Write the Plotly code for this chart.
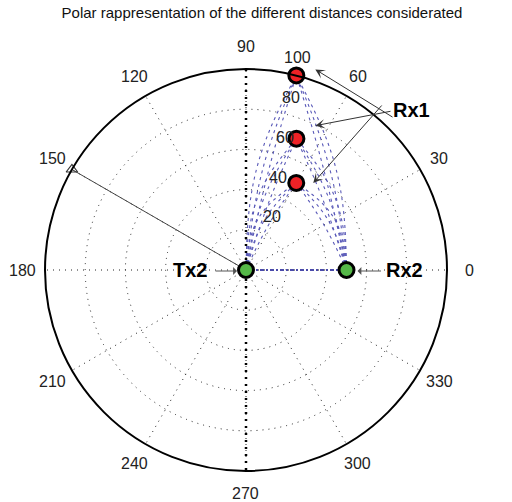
import numpy as np
import plotly.graph_objects as go

# ---------------- data ----------------
title_text = "Polar rappresentation of the different distances considerated"
angle_ticks = [0, 30, 60, 90, 120, 150, 180, 210, 240, 270, 300, 330]
angle_labels = [str(a) for a in angle_ticks]
radial_ticks = [20, 40, 60, 80, 100]
radial_labels = ["20", "40", "60", "80", "100"]

tx2_r = [0.0]
tx2_theta = [0.0]
rx2_r = [50.0]
rx2_theta = [0.0]
rx1_r = [50.0, 70.0, 100.0]
rx1_theta = [60.0, 69.0, 75.5]

ray_r = [0.0, 100.0]
ray_theta = [150.0, 150.0]

link_bulges = [1.5, 4.5, 7.5]   # outward bow of each dashed path (radial units)

# ---------------- layout constants ----------------
W, H = 512, 502
CX, CY, RPX = 246.0, 270.0, 201.0   # pixel centre and radius of the polar area
SCALE = RPX / 100.0
ANGLE_LABEL_R = 111.0               # radius (radial units) where angle labels sit

FONT = "Liberation Sans, Arial, sans-serif"


def pol2xy(r, th):
    t = np.radians(th)
    return r * np.cos(t), r * np.sin(t)


def xy2pol(x, y):
    return np.hypot(x, y), np.degrees(np.arctan2(y, x))


def to_paper(r, th, dx=0.0, dy=0.0):
    x, y = pol2xy(r, th)
    px = CX + x * SCALE + dx
    py = CY - y * SCALE + dy
    return px / W, 1 - py / H


fig = go.Figure()

# dashed propagation paths: Tx2 -> each Rx1 (bow left) and Rx2 -> each Rx1 (bow right)
tx_xy = pol2xy(tx2_r[0], tx2_theta[0])
rx2_xy = pol2xy(rx2_r[0], rx2_theta[0])
t = np.linspace(0, 1, 60)
for r1, th1 in zip(rx1_r, rx1_theta):
    bx, by = pol2xy(r1, th1)
    for (ax_, ay_), side in ((tx_xy, 1), (rx2_xy, -1)):
        dx, dy = bx - ax_, by - ay_
        L = np.hypot(dx, dy)
        nx, ny = side * (-dy / L), side * (dx / L)
        for b in link_bulges:
            xs = ax_ + t * dx + b * np.sin(np.pi * t) * nx
            ys = ay_ + t * dy + b * np.sin(np.pi * t) * ny
            rr, tt = xy2pol(xs, ys)
            fig.add_trace(go.Scatterpolar(
                r=rr, theta=tt, mode="lines",
                line=dict(color="#5a5ab8", width=1.1, dash="3px,4px"),
                hoverinfo="skip", showlegend=False))

# Tx2 - Rx2 link
fig.add_trace(go.Scatterpolar(
    r=[tx2_r[0], rx2_r[0]], theta=[tx2_theta[0], rx2_theta[0]], mode="lines",
    line=dict(color="#4a4aaa", width=2.2, dash="2px,2px,4px,2px"),
    hoverinfo="skip", showlegend=False))

# bold vertical spoke 90-270
fig.add_trace(go.Scatterpolar(
    r=[100, 0, 100], theta=[90, 90, 270], mode="lines",
    line=dict(color="black", width=2.5, dash="2px,5px"),
    hoverinfo="skip", showlegend=False))

# ray towards 150 deg with open triangle marker
fig.add_trace(go.Scatterpolar(
    r=ray_r, theta=ray_theta, mode="lines",
    line=dict(color="#444444", width=1),
    hoverinfo="skip", showlegend=False, cliponaxis=False))
fig.add_trace(go.Scatterpolar(
    r=[ray_r[-1]], theta=[ray_theta[-1]], mode="markers",
    marker=dict(symbol="triangle-up-open", size=10,
                color="#333333", line=dict(width=1.2, color="#333333")),
    hoverinfo="skip", showlegend=False, cliponaxis=False))

# receivers / transmitter
fig.add_trace(go.Scatterpolar(
    r=rx1_r, theta=rx1_theta, mode="markers",
    marker=dict(size=15, color="#ee2226", line=dict(color="black", width=3)),
    hoverinfo="skip", showlegend=False, cliponaxis=False))
fig.add_trace(go.Scatterpolar(
    r=tx2_r + rx2_r, theta=tx2_theta + rx2_theta, mode="markers",
    marker=dict(size=15, color="#55b848", line=dict(color="black", width=3)),
    hoverinfo="skip", showlegend=False, cliponaxis=False))

annotations = []
# radial tick labels (MATLAB style, beside the 81 deg direction)
for v, txt in zip(radial_ticks, radial_labels):
    xp, yp = to_paper(v, 81.0, 19.7, -13.5)
    annotations.append(dict(xref="paper", yref="paper", x=xp, y=yp, text=txt,
                            showarrow=False, xanchor="center", yanchor="middle",
                            font=dict(family=FONT, size=16, color="#222222")))
# angular tick labels, centred on a ring outside the circle (MATLAB style)
for a, txt in zip(angle_ticks, angle_labels):
    xp, yp = to_paper(ANGLE_LABEL_R, a)
    annotations.append(dict(xref="paper", yref="paper", x=xp, y=yp, text=txt,
                            showarrow=False, xanchor="center", yanchor="middle",
                            font=dict(family=FONT, size=16, color="#222222")))

# Rx1 label + arrows
annotations.append(dict(xref="paper", yref="paper", x=411 / W, y=1 - 110 / H,
                        xanchor="center", yanchor="middle",
                        text="<b>Rx1</b>", showarrow=False,
                        font=dict(family=FONT, size=20, color="black")))
rx1_tails = [(383, 104), (392, 111), (394, 118)]
rx1_tip_off = [(17, 0), (19, -13), (19, -6)]
for (tx_, ty_), (ox, oy), r1, th1 in zip(rx1_tails, rx1_tip_off, rx1_r, rx1_theta):
    xp, yp = to_paper(r1, th1, ox, oy)
    annotations.append(dict(xref="paper", yref="paper", x=xp, y=yp, text="",
                            showarrow=True, arrowhead=3, arrowsize=1.6,
                            arrowwidth=1, arrowcolor="#333333",
                            ax=tx_ - xp * W, ay=ty_ - (1 - yp) * H))
# Tx2
annotations.append(dict(xref="paper", yref="paper", x=190 / W, y=1 - 270 / H,
                        xanchor="center", yanchor="middle",
                        text="<b>Tx2</b>", showarrow=False,
                        font=dict(family=FONT, size=20, color="black")))
xp, yp = to_paper(tx2_r[0], tx2_theta[0], -9, 1)
annotations.append(dict(xref="paper", yref="paper", x=xp, y=yp, text="",
                        showarrow=True, arrowhead=1, arrowsize=1.3, arrowwidth=1,
                        arrowcolor="#555555", ax=-23, ay=0))
# Rx2
annotations.append(dict(xref="paper", yref="paper", x=404 / W, y=1 - 270 / H,
                        xanchor="center", yanchor="middle",
                        text="<b>Rx2</b>", showarrow=False,
                        font=dict(family=FONT, size=20, color="black")))
xp, yp = to_paper(rx2_r[0], rx2_theta[0], 11, 1)
annotations.append(dict(xref="paper", yref="paper", x=xp, y=yp, text="",
                        showarrow=True, arrowhead=1, arrowsize=1.3, arrowwidth=1,
                        arrowcolor="#555555", ax=25, ay=0))

fig.update_layout(
    width=W, height=H,
    margin=dict(l=0, r=0, t=0, b=0),
    paper_bgcolor="white",
    title=dict(text=title_text, x=262 / W, xanchor="center",
               y=1 - 13 / H, yanchor="middle",
               font=dict(family=FONT, size=15, color="#111111")),
    polar=dict(
        domain=dict(x=[(CX - RPX) / W, (CX + RPX) / W],
                    y=[(H - CY - RPX) / H, (H - CY + RPX) / H]),
        bgcolor="white",
        angularaxis=dict(
            tickvals=angle_ticks, showticklabels=False,
            direction="counterclockwise", rotation=0,
            showline=True, linecolor="black", linewidth=2,
            showgrid=True, gridcolor="#222222", gridwidth=1.3, griddash="1px,5px",
            ticks=""),
        radialaxis=dict(
            range=[0, 100], tickvals=radial_ticks, showticklabels=False,
            ticks="", showline=False,
            showgrid=True, gridcolor="#222222", gridwidth=1.3, griddash="1px,5px"),
    ),
    annotations=annotations,
)

fig.write_html("out.html", config={"displayModeBar": False},
               post_script="document.body.style.margin='0px';document.body.style.overflow='hidden';")
